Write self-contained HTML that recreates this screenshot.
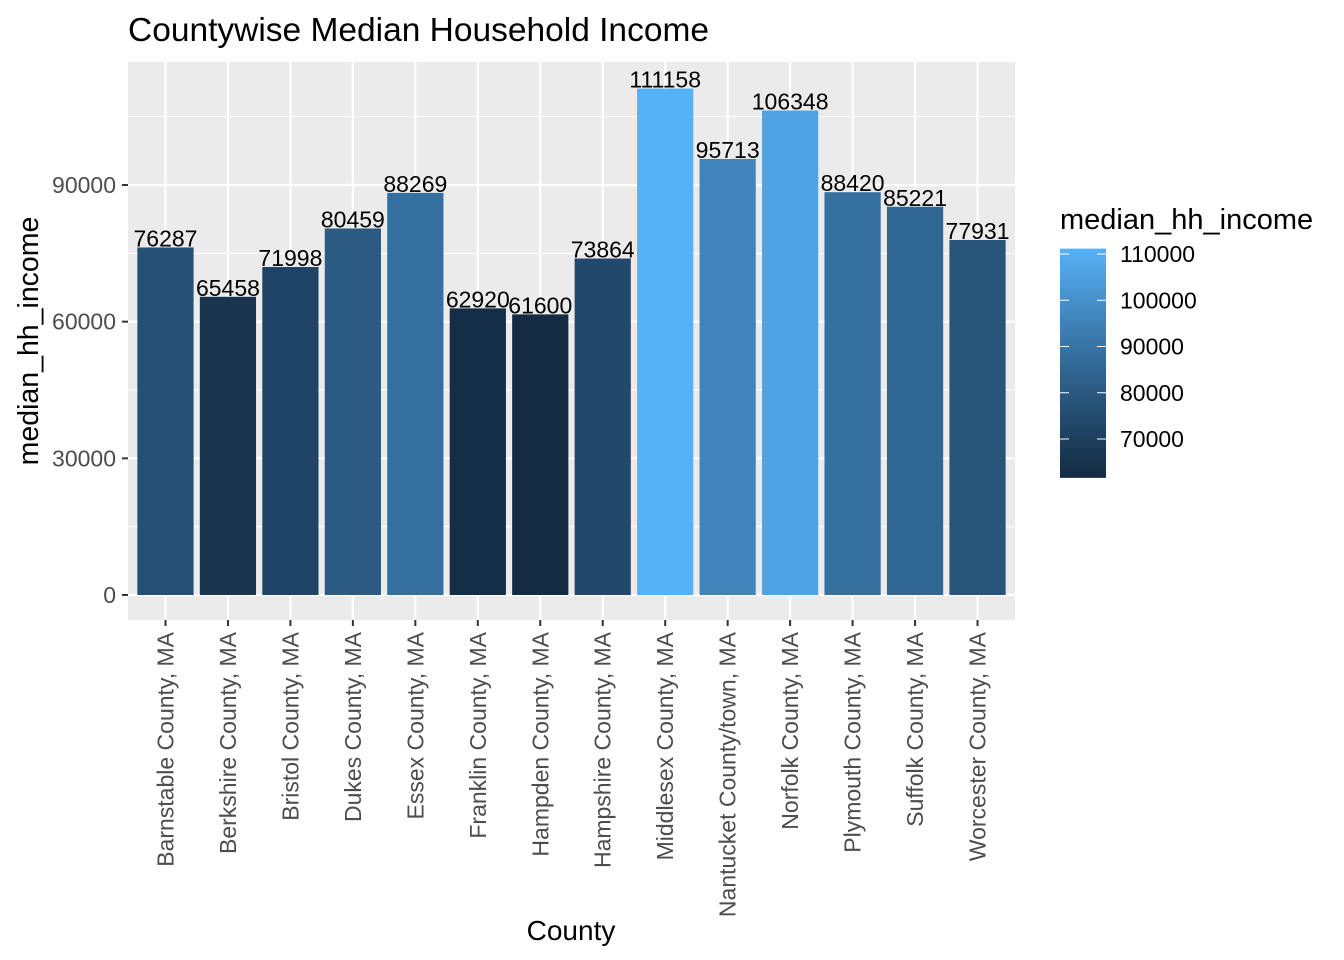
<!DOCTYPE html>
<html><head><meta charset="utf-8"><style>
body{margin:0;background:#fff}
svg{display:block;font-family:"Liberation Sans",Arial,sans-serif}
</style></head><body>
<svg id="chart" width="1344" height="960" viewBox="0 0 1344 960" xmlns="http://www.w3.org/2000/svg">
<rect width="1344" height="960" fill="#fff"/>
<text x="128" y="41" font-size="33.5" fill="#000">Countywise Median Household Income</text>
<rect x="128" y="62" width="887" height="558" fill="#EBEBEB"/>
<g id="grid"></g><g id="bars"></g><g id="axes"></g><g id="legend"></g>
<text x="571" y="940" font-size="28" text-anchor="middle">County</text>
<text transform="translate(38,341) rotate(-90)" font-size="28.5" text-anchor="middle">median_hh_income</text>
</svg>
<script>
const categories=["Barnstable County, MA","Berkshire County, MA","Bristol County, MA","Dukes County, MA","Essex County, MA","Franklin County, MA","Hampden County, MA","Hampshire County, MA","Middlesex County, MA","Nantucket County/town, MA","Norfolk County, MA","Plymouth County, MA","Suffolk County, MA","Worcester County, MA"];
const values=[76287,65458,71998,80459,88269,62920,61600,73864,111158,95713,106348,88420,85221,77931];
const yTicks=[0,30000,60000,90000];
const yMinor=[15000,45000,75000,105000];
const legendTicks=[70000,80000,90000,100000,110000];
const NS="http://www.w3.org/2000/svg";
const px0=128,pw=887,py0=62,ph=558;
const y=v=>595-v*(410/90000);
const step=pw/(categories.length+0.2);
const x=i=>px0+(i+0.6)*step;
function mk(t,a,p){const e=document.createElementNS(NS,t);for(const k in a)e.setAttribute(k,a[k]);p.appendChild(e);return e;}
function toLab(h){let c=[1,3,5].map(i=>parseInt(h.substr(i,2),16)/255).map(v=>v<=0.04045?v/12.92:Math.pow((v+0.055)/1.055,2.4));
let X=(c[0]*0.4124+c[1]*0.3576+c[2]*0.1805)/0.95047,Y=c[0]*0.2126+c[1]*0.7152+c[2]*0.0722,Z=(c[0]*0.0193+c[1]*0.1192+c[2]*0.9505)/1.08883;
const f=t=>t>0.008856?Math.cbrt(t):7.787*t+16/116;return[116*f(Y)-16,500*(f(X)-f(Y)),200*(f(Y)-f(Z))];}
function fromLab(L){let fy=(L[0]+16)/116,fx=fy+L[1]/500,fz=fy-L[2]/200;const g=t=>t*t*t>0.008856?t*t*t:(t-16/116)/7.787;
let X=g(fx)*0.95047,Y=g(fy),Z=g(fz)*1.08883;let r=X*3.2406-Y*1.5372-Z*0.4986,gg=-X*0.9689+Y*1.8758+Z*0.0415,b=X*0.0557-Y*0.2040+Z*1.0570;
return"rgb("+[r,gg,b].map(v=>{v=v<=0.0031308?12.92*v:1.055*Math.pow(v,1/2.4)-0.055;return Math.round(Math.max(0,Math.min(1,v))*255);}).join(",")+")";}
const lo=toLab("#132B43"),hi=toLab("#56B1F7");
const vmin=Math.min(...values),vmax=Math.max(...values);
const col=v=>{const t=(v-vmin)/(vmax-vmin);return fromLab(lo.map((a,i)=>a+(hi[i]-a)*t));};
const grid=document.getElementById('grid'),bars=document.getElementById('bars'),axes=document.getElementById('axes'),leg=document.getElementById('legend');
yMinor.forEach(v=>{const l=mk('line',{x1:px0,x2:px0+pw,y1:y(v),y2:y(v),stroke:'#fff','stroke-width':1},grid);

});
yTicks.forEach(v=>{const l=mk('line',{x1:px0,x2:px0+pw,y1:y(v),y2:y(v),stroke:'#fff','stroke-width':2.2},grid);


const tk=mk('line',{x1:px0-6,x2:px0,y1:y(v),y2:y(v),stroke:'#333','stroke-width':2},axes);


const t=mk('text',{x:px0-12,y:y(v)+8,'font-size':23,fill:'#4D4D4D','text-anchor':'end'},axes);t.textContent=v;

});
categories.forEach((c,i)=>{const cx=x(i);
const l=mk('line',{x1:cx,x2:cx,y1:py0,y2:py0+ph,stroke:'#fff','stroke-width':2.2},grid);


const bw=step*0.9,v=values[i];
const r=mk('rect',{x:cx-bw/2,y:y(v),width:bw,height:y(0)-y(v),fill:col(v)},bars);


const lb=mk('text',{x:cx,y:y(v)-1,'font-size':23,fill:'#000','text-anchor':'middle'},bars);lb.textContent=v;


const tk=mk('line',{x1:cx,x2:cx,y1:py0+ph,y2:py0+ph+6,stroke:'#333','stroke-width':2},axes);


const t=mk('text',{transform:`translate(${cx+8},${py0+ph+12}) rotate(-90)`,'font-size':23,fill:'#4D4D4D','text-anchor':'end'},axes);t.textContent=c;

});
const lt=mk('text',{x:1060,y:229,'font-size':29,fill:'#000'},leg);lt.textContent='median_hh_income';


const ly=v=>439-(v-70000)*(185/40000);
const defs=mk('defs',{},leg);const gr=mk('linearGradient',{id:'lg',x1:0,y1:1,x2:0,y2:0},defs);
for(let k=0;k<=20;k++){const v=vmin+(vmax-vmin)*k/20;mk('stop',{offset:k/20,'stop-color':col(v)},gr);}
const bar=mk('rect',{x:1060,y:ly(vmax),width:46,height:ly(vmin)-ly(vmax),fill:'url(#lg)'},leg);


legendTicks.forEach(v=>{mk('line',{x1:1060,x2:1069,y1:ly(v),y2:ly(v),stroke:'#fff','stroke-width':1},leg);
mk('line',{x1:1097,x2:1106,y1:ly(v),y2:ly(v),stroke:'#fff','stroke-width':1},leg);
const t=mk('text',{x:1120,y:ly(v)+8,'font-size':23,fill:'#000'},leg);t.textContent=v;

});
</script>
</body></html>
